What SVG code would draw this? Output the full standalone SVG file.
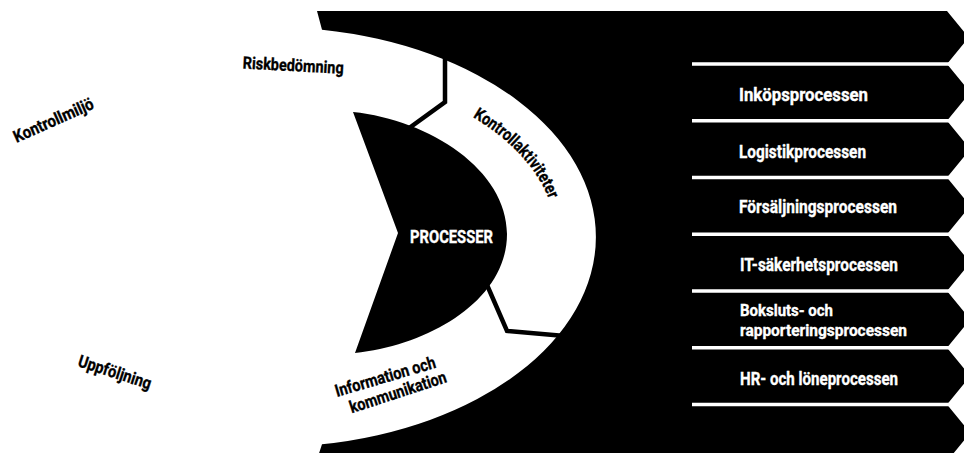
<svg xmlns="http://www.w3.org/2000/svg" width="964" height="453" viewBox="0 0 964 453">
  <style>
    text { font-family: Roboto, "Liberation Sans", "DejaVu Sans", sans-serif; font-weight: 700; }
    .dark { fill: #000; }
    .light { fill: #fff; }
    .sep { stroke: #fff; stroke-width: 3.5; fill: none; }
    .divider { stroke: #000; stroke-width: 4.5; fill: none; stroke-linejoin: miter; }
    .row-label { fill: #fff; stroke: #fff; stroke-width: 0.35px; font-size: 18px; }
    .row-label.two-line { font-size: 16.5px; }
    .ring-label { fill: #000; stroke: #000; stroke-width: 0.35px; font-size: 17px; }
  </style>
  <defs>
    <!-- baseline for the curved label inside the ring -->
    <path id="arc-kontroll" d="M 270,67 A 286 170 0 0 1 556,237"/>
  </defs>

  <rect width="964" height="453" fill="#fff"/>

  <!-- black process band: chevron right edge, elliptical cut-out on the left -->
  <g id="process-band">
    <path class="dark" d="M317,11 L947,11 L968.7,37.5 L947,64 L970.3,92.4 L947,120.75 L970.3,149.1 L947,177.5
      L970.3,205.9 L947,234.25 L970.3,262.6 L947,291 L970.3,319.4 L947,347.75 L970.3,376.1 L947,404.5
      L970.3,432.9 L947,461.25 L316.4,461.25 L322,444.3 A326 210 0 0 0 322,29.7 Z"/>
    <path class="sep" d="M692,64H950 M692,120.75H950 M692,177.5H950 M692,234.25H950 M692,291H950 M692,347.75H950 M692,404.5H950"/>
  </g>

  <!-- central process shape -->
  <g id="processer">
    <path class="dark" d="M353,112 C430,120 507,170 507,234 C507,300 430,345 355,353 L398,233 Z"/>
    <text class="light" x="410" y="243" font-size="17.5" stroke="#fff" stroke-width="0.35" textLength="83" lengthAdjust="spacingAndGlyphs">PROCESSER</text>
  </g>

  <!-- segment boundaries inside the ring -->
  <g id="segment-dividers">
    <polyline class="divider" points="403,132.5 445,102 445,55"/>
    <polyline class="divider" points="484,278 507,331 562,335.8"/>
  </g>

  <!-- control framework labels -->
  <g id="kontrollmiljo">
    <text class="ring-label" transform="translate(16.5,143) rotate(-24)" textLength="86" lengthAdjust="spacingAndGlyphs">Kontrollmiljö</text>
  </g>
  <g id="riskbedomning">
    <text class="ring-label" transform="translate(242.5,68.5) rotate(3)" font-size="17.5" textLength="101" lengthAdjust="spacingAndGlyphs">Riskbedömning</text>
  </g>
  <g id="kontrollaktiviteter">
    <text class="ring-label" font-size="16"><textPath href="#arc-kontroll" startOffset="211" textLength="114" lengthAdjust="spacingAndGlyphs">Kontrollaktiviteter</textPath></text>
  </g>
  <g id="information-kommunikation">
    <text class="ring-label" transform="translate(337,397) rotate(-16.5)" textLength="104" lengthAdjust="spacingAndGlyphs">Information och</text>
    <text class="ring-label" transform="translate(351.7,413.3) rotate(-18.1)" textLength="101" lengthAdjust="spacingAndGlyphs">kommunikation</text>
  </g>
  <g id="uppfoljning">
    <text class="ring-label" transform="translate(77,366) rotate(18)" textLength="76" lengthAdjust="spacingAndGlyphs">Uppföljning</text>
  </g>

  <!-- process rows -->
  <g id="row-inkop">
    <text class="row-label" x="739" y="101" textLength="129" lengthAdjust="spacingAndGlyphs">Inköpsprocessen</text>
  </g>
  <g id="row-logistik">
    <text class="row-label" x="739" y="157.7" textLength="127" lengthAdjust="spacingAndGlyphs">Logistikprocessen</text>
  </g>
  <g id="row-forsaljning">
    <text class="row-label" x="739" y="213.3" textLength="158" lengthAdjust="spacingAndGlyphs">Försäljningsprocessen</text>
  </g>
  <g id="row-it">
    <text class="row-label" x="740" y="271.3" textLength="158" lengthAdjust="spacingAndGlyphs">IT-säkerhetsprocessen</text>
  </g>
  <g id="row-bokslut">
    <text class="row-label two-line" x="740" y="315.8" textLength="93" lengthAdjust="spacingAndGlyphs">Boksluts- och</text>
    <text class="row-label two-line" x="740" y="335.8" textLength="167" lengthAdjust="spacingAndGlyphs">rapporteringsprocessen</text>
  </g>
  <g id="row-hr">
    <text class="row-label" x="740" y="385.3" textLength="158" lengthAdjust="spacingAndGlyphs">HR- och löneprocessen</text>
  </g>
</svg>
